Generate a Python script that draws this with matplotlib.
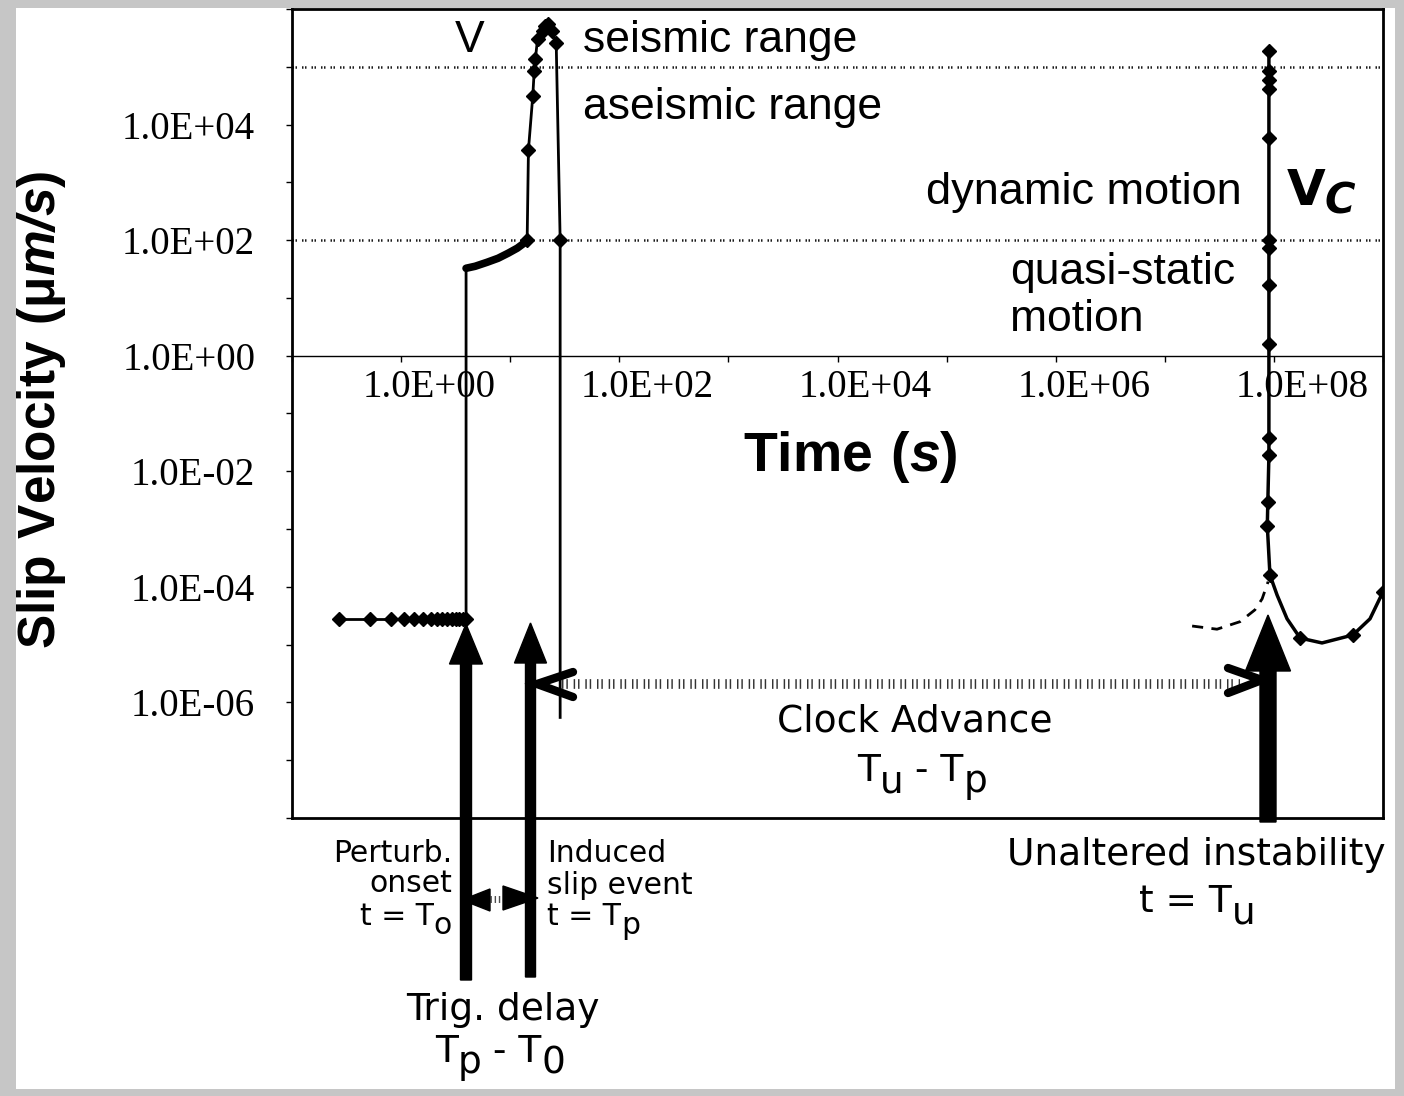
import math
import matplotlib
matplotlib.use("Agg")
import matplotlib.pyplot as plt
from matplotlib.patches import FancyArrow, Polygon, Rectangle
from matplotlib.lines import Line2D
from matplotlib.transforms import ScaledTranslation
from matplotlib.ticker import FixedLocator, FuncFormatter, NullLocator

plt.rcParams['mathtext.fontset'] = 'custom'
plt.rcParams['mathtext.rm'] = 'DejaVu Sans'
plt.rcParams['mathtext.bf'] = 'Liberation Sans:bold'
plt.rcParams['mathtext.bfit'] = 'Liberation Sans:bold:italic'

# ---- data ----
# steady creep before the perturbation
t_creep = [0.27, 0.52, 0.81, 1.06, 1.32, 1.59, 1.88, 2.14, 2.38, 2.64, 2.93, 3.19, 3.4, 3.7, 3.94]
v_creep = [2.8e-5, 2.8e-5, 2.8e-5, 2.8e-5, 2.8e-5, 2.8e-5, 2.8e-5, 2.8e-5,
           2.8e-5, 2.8e-5, 2.8e-5, 2.8e-5, 2.8e-5, 2.8e-5, 2.8e-5]

# triggered slip event (jump, acceleration, seismic peak, drop)
t_trig = [3.94, 3.94, 4.77, 6.14, 7.75, 9.57, 11.6, 13.4, 14.3, 14.7, 16.1, 16.6,
          17.0, 17.8, 19.9, 20.9, 22.4, 24.1, 26.4, 28.7, 28.7]
v_trig = [2.8e-5, 32.6, 35.3, 41.4, 48.6, 59.4, 72.6, 88.7, 100, 3675, 3.1e4, 8.45e4,
          1.35e5, 3.0e5, 4.2e5, 5.1e5, 5.5e5, 4.2e5, 2.6e5, 100, 5.5e-7]
trig_marks = [8, 9, 10, 11, 12, 13, 14, 15, 16, 17, 18, 19]

# unaltered instability (right branch)
t_inst = [1.0e9, 7.6e8, 5.3e8, 2.76e8, 1.74e8, 1.32e8, 1.07e8, 9.2e7, 8.7e7, 8.8e7,
          9.0e7, 9.0e7, 9.0e7, 9.0e7, 9.0e7, 9.0e7, 9.0e7, 9.0e7, 9.0e7, 9.0e7, 9.0e7]
v_inst = [8.2e-5, 2.8e-5, 1.47e-5, 1.07e-5, 1.3e-5, 2.8e-5, 7.2e-5, 1.6e-4, 1.15e-3, 3.0e-3,
          0.019, 0.037, 1.6, 16.6, 72, 100, 5.9e3, 4.1e4, 6.0e4, 8.3e4, 1.86e5]
inst_marks = [0, 2, 4, 7, 8, 9, 10, 11, 12, 13, 14, 15, 16, 17, 18, 19, 20]

# dashed extrapolation before the instability
t_dash = [1.78e7, 3.01e7, 4.9e7, 6.7e7, 7.8e7, 8.85e7]
v_dash = [2.1e-5, 1.85e-5, 2.5e-5, 4.0e-5, 6.2e-5, 1.23e-4]

# range boundaries
v_bounds = [1e5, 1e2]

x_tick_exps = [-1, 0, 1, 2, 3, 4, 5, 6, 7, 8, 9]
x_label_exps = [0, 2, 4, 6, 8]
y_tick_exps = [-8, -7, -6, -5, -4, -3, -2, -1, 0, 1, 2, 3, 4, 5, 6]
y_label_exps = [-6, -4, -2, 0, 2, 4]

W, H, DPI = 1404, 1096, 100


def px(x, y):
    # pixel position of the reference -> inches for dpi_scale_trans
    return x / DPI, (H - y) / DPI


fig = plt.figure(figsize=(W / DPI, H / DPI), dpi=DPI)
fig.patch.set_facecolor('#c6c6c6')
IN = fig.dpi_scale_trans
fig.add_artist(Rectangle(px(16, 1089), 1379 / DPI, 1081 / DPI, transform=IN,
                         facecolor='white', edgecolor='none', zorder=-10))

ax = fig.add_axes([292 / W, 1 - 818 / H, (1383 - 292) / W, (818 - 9) / H])
ax.set_facecolor('white')
ax.set_xscale('log')
ax.set_yscale('log')
ax.set_xlim(1e-1, 1e9)
ax.set_ylim(1e-8, 1e6)

for y in v_bounds:
    ax.axhline(y, color='0.1', lw=1.8, linestyle=(0, (0.6, 0.6, 0.6, 2.0)), zorder=1)

ax.plot(t_creep, v_creep, color='black', lw=2, marker='D', ms=7, zorder=3)
ax.plot(t_trig, v_trig, color='black', lw=2, marker='D', ms=7,
        markevery=trig_marks, zorder=3)
# the dense markers of the acceleration phase merge into a thick band
ax.plot(t_trig[1:9], v_trig[1:9], color='black', lw=5.5, solid_capstyle='round', zorder=3)
ax.plot(t_inst, v_inst, color='black', lw=2.5, marker='D', ms=7,
        markevery=inst_marks, zorder=3)
ax.plot(t_dash, v_dash, color='black', lw=2, linestyle=(0, (4, 3)), zorder=3)

# axes: x axis crosses at V = 1
ax.spines['bottom'].set_position(('data', 1.0))
ax.spines['bottom'].set_linewidth(1)
for s in ['top', 'right', 'left']:
    ax.spines[s].set_linewidth(2)
    ax.spines[s].set_color('black')
ax.plot([0, 1], [0, 0], transform=ax.transAxes, color='black', lw=2, clip_on=False)

ax.xaxis.set_major_locator(FixedLocator([10.0 ** e for e in x_tick_exps]))
ax.yaxis.set_major_locator(FixedLocator([10.0 ** e for e in y_tick_exps]))
ax.xaxis.set_minor_locator(NullLocator())
ax.yaxis.set_minor_locator(NullLocator())


def fmt_x(v, pos):
    e = int(round(math.log10(v)))
    return f"{v:.1E}" if e in x_label_exps else ""


def fmt_y(v, pos):
    e = int(round(math.log10(v)))
    return f"{v:.1E}" if e in y_label_exps else ""


ax.xaxis.set_major_formatter(FuncFormatter(fmt_x))
ax.yaxis.set_major_formatter(FuncFormatter(fmt_y))
ax.tick_params(axis='x', direction='out', length=4.5, width=1, pad=5,
               labelsize=28, labelfontfamily='Liberation Serif')
ax.tick_params(axis='y', direction='out', length=4.5, width=1, pad=22,
               labelsize=28, labelfontfamily='Liberation Serif')
for lab in ax.get_xticklabels():
    lab.set_transform(lab.get_transform() + ScaledTranslation(0.28, 0, IN))

# ---- axis titles ----
fig.text(*px(850, 457), r"$\mathbf{Time\ (}\mathbfit{s}\mathbf{)}$", transform=IN,
         fontsize=40, ha='center', va='center')
fig.text(*px(42, 410), r"$\mathbf{Slip\ Velocity\ (\mu}\mathbfit{m/s}\mathbf{)}$",
         transform=IN, fontsize=37, ha='center', va='center', rotation=90)

# ---- range labels ----
sans = 'Liberation Sans'
fig.text(*px(470, 52), "V", transform=IN, fontsize=32, family=sans, ha='center', va='baseline')
fig.text(*px(583, 52), "seismic range", transform=IN, fontsize=32, family=sans, va='baseline')
fig.text(*px(583, 119), "aseismic range", transform=IN, fontsize=32, family=sans, va='baseline')
fig.text(*px(1242, 204), "dynamic motion", transform=IN, fontsize=32.5, family=sans,
         ha='right', va='baseline')
fig.text(*px(1010, 284), "quasi-static", transform=IN, fontsize=32, family=sans, va='baseline')
fig.text(*px(1010, 331), "motion", transform=IN, fontsize=32, family=sans, va='baseline')
fig.text(*px(1306, 191), "V", transform=IN, fontsize=36, fontweight='bold',
         family='DejaVu Sans', ha='center', va='center')
fig.text(*px(1340, 202), "C", transform=IN, fontsize=30, fontweight='bold',
         family='DejaVu Sans', ha='center', va='center', style='italic')

# ---- big arrows ----
for x, yb, yt, w, hw, hl in [(466, 980, 624, 0.11, 0.33, 0.40),
                             (530.5, 977, 623, 0.10, 0.32, 0.40),
                             (1268, 822, 615, 0.16, 0.45, 0.56)]:
    x0, y0 = px(x, yb)
    fig.add_artist(FancyArrow(x0, y0, 0, (yb - yt) / DPI, width=w, head_width=hw,
                              head_length=hl, length_includes_head=True, transform=IN,
                              color='black', zorder=5))

# clock advance arrow
xs, ys = zip(*[px(562, 684), px(1240, 684)])
fig.add_artist(Line2D(xs, ys, transform=IN, color='0.2', lw=7,
                      linestyle=(0, (0.15, 0.3, 0.15, 0.6)), zorder=4))
for pts in [[(573, 672), (537, 684), (573, 697)], [(1228, 668), (1262, 680), (1228, 693)]]:
    xs, ys = zip(*[px(a, b) for a, b in pts])
    fig.add_artist(Line2D(xs, ys, transform=IN, color='black', lw=6,
                          solid_capstyle='round', solid_joinstyle='miter', zorder=6))

# trig delay small arrow
fig.add_artist(Polygon([px(462, 900), px(490, 889), px(490, 911)], closed=True,
                       transform=IN, color='black', zorder=6))
fig.add_artist(Polygon([px(538, 898), px(503, 886), px(503, 910)], closed=True,
                       transform=IN, color='black', zorder=6))
xs, ys = zip(*[px(490, 899), px(503, 899)])
fig.add_artist(Line2D(xs, ys, transform=IN, color='0.3', lw=5,
                      linestyle=(0, (0.2, 0.4)), zorder=5))

# ---- annotations ----
ann = 'DejaVu Sans'
renderer = fig.canvas.get_renderer()


def rich(x, yb, parts, size, ha='center'):
    # text with full-size, lowered subscripts (as in the hand-made figure)
    arts = []
    for s, sub in parts:
        arts.append((fig.text(0, 0, s, transform=IN, fontsize=size, family=ann,
                              va='baseline'), sub))
    widths = [t.get_window_extent(renderer).width for t, _ in arts]
    total = sum(widths)
    x0 = {'center': x - total / 2, 'right': x - total, 'left': x}[ha]
    drop = size * DPI / 72 * 0.3
    for (t, sub), w in zip(arts, widths):
        t.set_position(px(x0, yb + (drop if sub else 0)))
        x0 += w


fig.text(*px(915, 722), "Clock Advance", transform=IN, fontsize=27, family=ann,
         ha='center', va='center')
rich(922, 781, [("T", False), ("u", True), (" - T", False), ("p", True)], 27)
fig.text(*px(1196, 855), "Unaltered instability", transform=IN, fontsize=27, family=ann,
         ha='center', va='center')
rich(1197, 912, [("t = T", False), ("u", True)], 27)

fig.text(*px(452, 853), "Perturb.", transform=IN, fontsize=21.5, family=ann,
         ha='right', va='center')
fig.text(*px(452, 883), "onset", transform=IN, fontsize=21.5, family=ann,
         ha='right', va='center')
rich(452, 925, [("t = T", False), ("o", True)], 21.5, ha='right')
fig.text(*px(547, 853), "Induced", transform=IN, fontsize=21.5, family=ann,
         ha='left', va='center')
fig.text(*px(547, 885), "slip event", transform=IN, fontsize=21.5, family=ann,
         ha='left', va='center')
rich(547, 925, [("t = T", False), ("p", True)], 21.5, ha='left')

fig.text(*px(503, 1010), "Trig. delay", transform=IN, fontsize=27, family=ann,
         ha='center', va='center')
rich(500, 1062, [("T", False), ("p", True), (" - T", False), ("0", True)], 27)

fig.savefig("out.png", dpi=DPI, facecolor=fig.get_facecolor())
